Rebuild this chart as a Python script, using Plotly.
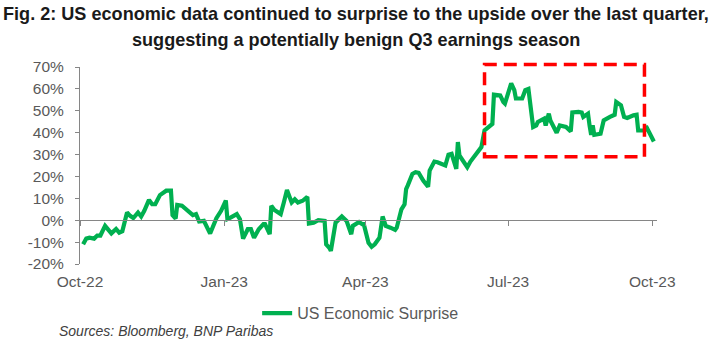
import plotly.graph_objects as go

dates = [
    "2022-10-03", "2022-10-05", "2022-10-07", "2022-10-10", "2022-10-12", "2022-10-14",
    "2022-10-17", "2022-10-19", "2022-10-21", "2022-10-24", "2022-10-26", "2022-10-28",
    "2022-10-31", "2022-11-02", "2022-11-04", "2022-11-07", "2022-11-09", "2022-11-11",
    "2022-11-14", "2022-11-16", "2022-11-18", "2022-11-21", "2022-11-25", "2022-11-28",
    "2022-11-29", "2022-12-01", "2022-12-02", "2022-12-05", "2022-12-08", "2022-12-12",
    "2022-12-14", "2022-12-16", "2022-12-19", "2022-12-21", "2022-12-23", "2022-12-27",
    "2022-12-30", "2023-01-02", "2023-01-03", "2023-01-05", "2023-01-09", "2023-01-11",
    "2023-01-13", "2023-01-16", "2023-01-18", "2023-01-20", "2023-01-23", "2023-01-26",
    "2023-01-27", "2023-01-30", "2023-01-31", "2023-02-02", "2023-02-06", "2023-02-08",
    "2023-02-10", "2023-02-13", "2023-02-15", "2023-02-17", "2023-02-20", "2023-02-23",
    "2023-02-24", "2023-02-27", "2023-03-02", "2023-03-06", "2023-03-07", "2023-03-09",
    "2023-03-10", "2023-03-13", "2023-03-15", "2023-03-17", "2023-03-20", "2023-03-23",
    "2023-03-24", "2023-03-28", "2023-03-30", "2023-03-31", "2023-04-03", "2023-04-05",
    "2023-04-07", "2023-04-10", "2023-04-12", "2023-04-14", "2023-04-17", "2023-04-20",
    "2023-04-21", "2023-04-24", "2023-04-26", "2023-04-27", "2023-04-28", "2023-05-01",
    "2023-05-03", "2023-05-05", "2023-05-08", "2023-05-11", "2023-05-12", "2023-05-15",
    "2023-05-17", "2023-05-22", "2023-05-24", "2023-05-26", "2023-05-29", "2023-05-30",
    "2023-05-31", "2023-06-02", "2023-06-05", "2023-06-07", "2023-06-12", "2023-06-14",
    "2023-06-16", "2023-06-19", "2023-06-21", "2023-06-22", "2023-06-26", "2023-06-28",
    "2023-06-29", "2023-07-03", "2023-07-05", "2023-07-06", "2023-07-10", "2023-07-12",
    "2023-07-14", "2023-07-17", "2023-07-19", "2023-07-20", "2023-07-24", "2023-07-25",
    "2023-07-26", "2023-07-27", "2023-07-28", "2023-08-01", "2023-08-03", "2023-08-07",
    "2023-08-10", "2023-08-11", "2023-08-15", "2023-08-17", "2023-08-18", "2023-08-21",
    "2023-08-22", "2023-08-23", "2023-08-24", "2023-08-25", "2023-08-29", "2023-08-31",
    "2023-09-04", "2023-09-07", "2023-09-08", "2023-09-11", "2023-09-13", "2023-09-15",
    "2023-09-19", "2023-09-21", "2023-09-22", "2023-09-26", "2023-09-27", "2023-09-29",
    "2023-10-02",
]

surprise = [
    -11, -8.4, -8, -8.4, -7, -7,
    -2.6, -4, -6, -4, -5.7, -5,
    3.5, 2, 1, 3.5, 1.7, 4.3,
    9.3, 7.3, 7.3, 11.5, 13.5, 13.5,
    2.3, 0.8, 7, 6.6, 4.7, 2.3,
    2.8, -0.6, -0.3, -3.4, -6.1, 0.9,
    4.3, 9, 0.5, 1.2, 2.8, 0.5,
    -8.4, -4.1, -4.1, -8, -4.1, -1.8,
    -1.8, -6.4, 6.6, 4.7, 2.8, 8.1,
    13.8, 8.1, 9.6, 8.1, 8.9, 10.7,
    -1.5, -1.1, 0, -0.3, -11, -12.6,
    -14, -1.1, 0, 1.7, -0.3, -6.4,
    -2.6, -0.8, -1.8, -1.8, -10.3, -12.1,
    -11, -8, 1.7, -2.6, -3.4, -4.4,
    -3.4, 5, 7.3, 14.2, 15.8, 21.1,
    21.9, 21.6, 18, 15.3, 22.7, 26.8,
    26.5, 25, 29.9, 30.3, 23.5, 35.7,
    29.6, 27.3, 24.2, 26.8, 31.9, 33.4,
    41, 43, 44, 57.4, 57, 54,
    53.3, 62.5, 59.4, 55.6, 55.6, 59.4,
    60, 42.6, 43.3, 44.9, 46.4, 43.3,
    46.7, 48.7, 45.6, 40, 43.3, 42.6,
    40.6, 49.2, 49.5, 49.2, 47.2, 48.7,
    43.3, 39, 43.3, 39, 39.5, 45.6,
    47.2, 48.2, 54, 52.5, 47.2, 46.7,
    47.9, 48.2, 41, 41, 43, 40.3,
    36,
]

x_ticks = ["2022-10-01", "2023-01-01", "2023-04-01", "2023-07-01", "2023-10-01"]
x_tick_labels = ["Oct-22", "Jan-23", "Apr-23", "Jul-23", "Oct-23"]
y_ticks = [-20, -10, 0, 10, 20, 30, 40, 50, 60, 70]
y_tick_labels = [f"{v}%" for v in y_ticks]

highlight_x = ["2023-06-16", "2023-09-26"]

series_name = "US Economic Surprise"
title_lines = [
    "Fig. 2: US economic data continued to surprise to the upside over the last quarter,",
    "suggesting a potentially benign Q3 earnings season",
]
source_text = "Sources: Bloomberg, BNP Paribas"

GREEN = "#00B050"
GRAY_TXT = "#595959"
AXIS = "#868686"
X_RANGE = ["2022-10-01", "2023-10-04"]
Y_RANGE = [-20, 70]

fig = go.Figure()
fig.add_trace(go.Scatter(
    x=dates, y=surprise, mode="lines", name=series_name,
    line=dict(color=GREEN, width=4.2), showlegend=True,
))

tick_font = dict(family="Liberation Sans, Arial, sans-serif", size=15.5, color=GRAY_TXT)

zero_pos = (0 - Y_RANGE[0]) / (Y_RANGE[1] - Y_RANGE[0])

fig.update_layout(
    width=712, height=342,
    margin=dict(l=80, r=55, t=67, b=78),
    paper_bgcolor="white", plot_bgcolor="white",
    showlegend=True,
    legend=dict(
        orientation="h", x=0.307, xanchor="left", y=-0.25, yanchor="middle",
        font=dict(family="Liberation Sans, Arial, sans-serif", size=16, color=GRAY_TXT),
        bgcolor="rgba(0,0,0,0)",
    ),
    xaxis=dict(
        type="date", range=X_RANGE, tickvals=x_ticks, ticktext=x_tick_labels,
        showgrid=False, zeroline=False, showline=False, ticks="",
        tickfont=tick_font, ticklabelstandoff=6,
    ),
    xaxis2=dict(
        type="date", range=X_RANGE, tickvals=x_ticks, overlaying="x",
        anchor="free", position=zero_pos, side="bottom",
        showgrid=False, zeroline=False, showline=True, linecolor=AXIS, linewidth=1,
        ticks="outside", ticklen=5, tickcolor=AXIS, showticklabels=False,
    ),
    yaxis=dict(
        range=Y_RANGE, tickvals=y_ticks, ticktext=y_tick_labels,
        showgrid=False, zeroline=False, showline=True, linecolor=AXIS, linewidth=1,
        ticks="outside", ticklen=4, tickcolor=AXIS,
        tickfont=tick_font, ticklabelstandoff=8,
    ),
)

# invisible trace so the zero-line axis (xaxis2) is drawn
fig.add_trace(go.Scatter(x=[X_RANGE[0]], y=[0], xaxis="x2", mode="markers",
                         marker=dict(opacity=0), showlegend=False, hoverinfo="skip"))

fig.add_shape(
    type="rect", xref="x", yref="paper",
    x0=highlight_x[0], x1=highlight_x[1], y0=0.544, y1=1.013,
    line=dict(color="#FF0000", width=3.5, dash="13px,7px"),
    fillcolor="rgba(0,0,0,0)",
)

title_font = dict(family="Liberation Sans, Arial, sans-serif", size=18.1, color="#1a1a1a")
title_cx = 0.478
fig.add_annotation(text="<b>" + title_lines[0] + "</b>", xref="paper", yref="paper",
                   x=title_cx, y=1.269, xanchor="center", yanchor="middle",
                   showarrow=False, font=title_font)
fig.add_annotation(text="<b>" + title_lines[1] + "</b>", xref="paper", yref="paper",
                   x=title_cx, y=1.137, xanchor="center", yanchor="middle",
                   showarrow=False, font=title_font)
fig.add_annotation(text="<i>" + source_text + "</i>", xref="paper", yref="paper",
                   x=-0.04, y=-0.340, xanchor="left", yanchor="middle",
                   showarrow=False,
                   font=dict(family="Liberation Sans, Arial, sans-serif", size=14, color="#404040"))

fig.write_html("out.html")
